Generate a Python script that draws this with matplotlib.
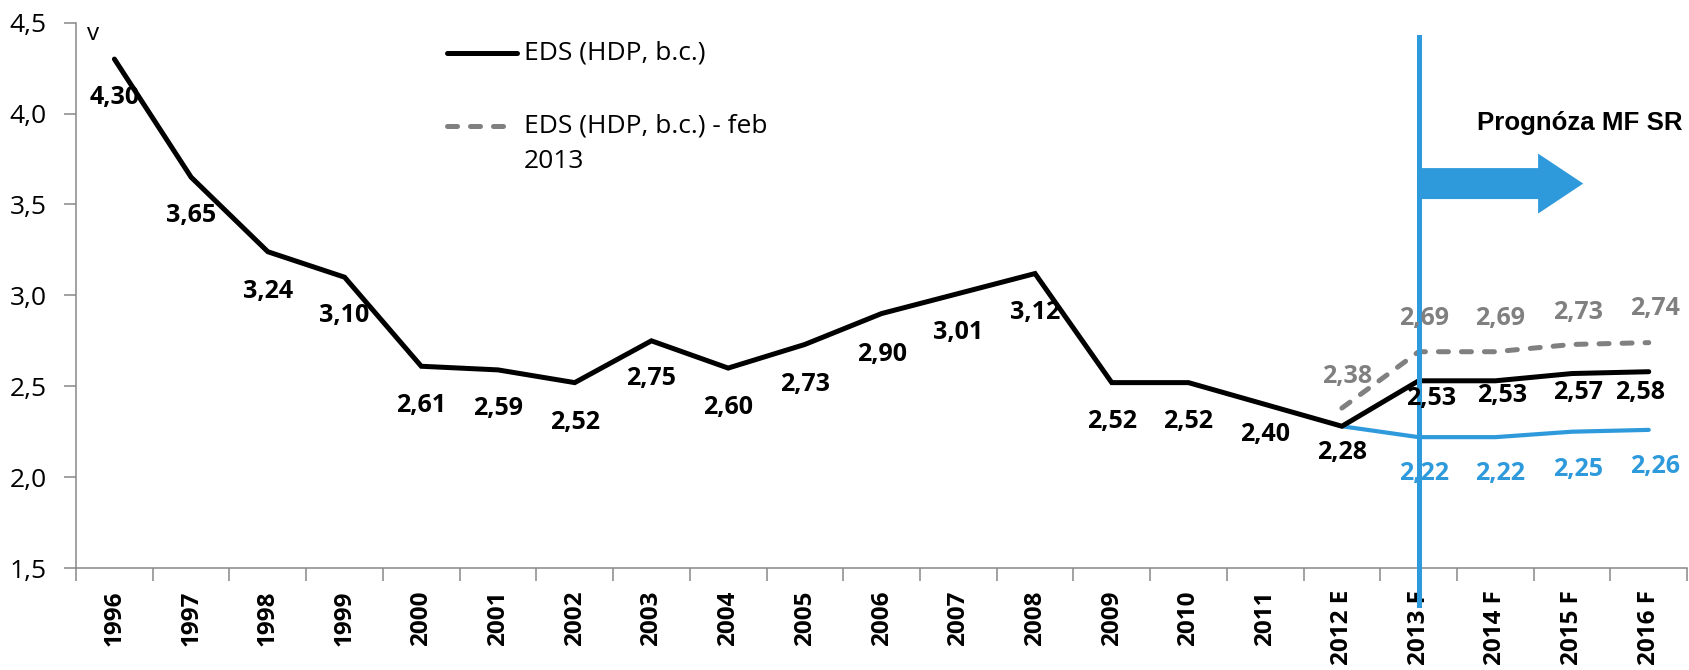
import matplotlib
matplotlib.use("Agg")
import matplotlib.pyplot as plt
from matplotlib.patches import FancyArrow
from matplotlib.ticker import FixedLocator, FuncFormatter
import matplotlib.transforms as mtransforms

plt.rcParams['font.family'] = ['Open Sans', 'DejaVu Sans']

# ---------------- data ----------------
categories = ["1996", "1997", "1998", "1999", "2000", "2001", "2002", "2003", "2004",
              "2005", "2006", "2007", "2008", "2009", "2010", "2011", "2012 E",
              "2013 F", "2014 F", "2015 F", "2016 F"]
eds = [4.30, 3.65, 3.24, 3.10, 2.61, 2.59, 2.52, 2.75, 2.60, 2.73, 2.90, 3.01, 3.12,
       2.52, 2.52, 2.40, 2.28, 2.53, 2.53, 2.57, 2.58]
feb_cats = ["2012 E", "2013 F", "2014 F", "2015 F", "2016 F"]
eds_feb = [2.38, 2.69, 2.69, 2.73, 2.74]
blue_cats = ["2012 E", "2013 F", "2014 F", "2015 F", "2016 F"]
eds_blue = [2.28, 2.22, 2.22, 2.25, 2.26]
blue_label_cats = ["2013 F", "2014 F", "2015 F", "2016 F"]
blue_label_vals = [2.22, 2.22, 2.25, 2.26]
legend_labels = ["EDS (HDP, b.c.)", "EDS (HDP, b.c.) - feb\n2013"]
forecast_start = "2013 F"
arrow_text = "Prognóza MF SR"
unit_text = "v"
y_ticks = [1.5, 2.0, 2.5, 3.0, 3.5, 4.0, 4.5]

# label offsets in pixels (dx, dy downwards positive)
eds_off_x = [0]*17 + [12, 7, 6, -9]
eds_off_y = [38, 38, 40, 38, 39, 39, 40, 38, 39, 40, 41, 39, 39, 39, 39, 30, 26, 18, 15, 19, 21]
feb_off = [(5, -32), (5, -33), (5, -33), (6, -32), (6, -34)]
blue_off = [(5, 36), (5, 36), (6, 38), (6, 37)]

BLUE = "#2F9ADB"
GRAY = "#808080"
AXC = "#888888"

fig = plt.figure(figsize=(16.9, 6.7), dpi=100)
ax = fig.add_axes([0.045, 0.1522, 0.9533, 0.8139])

idx = {c: i for i, c in enumerate(categories)}
x_all = list(range(len(categories)))
x_feb = [idx[c] for c in feb_cats]
x_blue = [idx[c] for c in blue_cats]

ax.plot(x_blue, eds_blue, color=BLUE, lw=3.0, solid_capstyle='round', zorder=3)
ax.plot(x_feb, eds_feb, color=GRAY, lw=3.6, linestyle=(0, (2.0, 2.6)),
        dash_capstyle='round', zorder=3)
ax.plot(x_all, eds, color='black', lw=3.6, solid_capstyle='round',
        solid_joinstyle='miter', zorder=4)

# vertical forecast line
trans = mtransforms.blended_transform_factory(ax.transData, ax.transAxes)
xf = idx[forecast_start]
ax.plot([xf, xf], [0.974, -0.068], transform=trans, color=BLUE, lw=3.6,
        clip_on=False, zorder=5)

# data labels
fs_lab = 18
def fmt(v):
    return f"{v:.2f}".replace('.', ',')
for i, v in enumerate(eds):
    ax.annotate(fmt(v), (i, v), xytext=(eds_off_x[i], -eds_off_y[i]),
                textcoords='offset pixels', ha='center', va='center',
                fontsize=fs_lab, fontweight='bold', color='black', zorder=6)
for (c, v), (dx, dy) in zip(zip(feb_cats, eds_feb), feb_off):
    ax.annotate(fmt(v), (idx[c], v), xytext=(dx, -dy),
                textcoords='offset pixels', ha='center', va='center',
                fontsize=fs_lab, fontweight='bold', color=GRAY, zorder=6)
for (c, v), (dx, dy) in zip(zip(blue_label_cats, blue_label_vals), blue_off):
    ax.annotate(fmt(v), (idx[c], v), xytext=(dx, -dy),
                textcoords='offset pixels', ha='center', va='center',
                fontsize=fs_lab, fontweight='bold', color=BLUE, zorder=6)

# axes styling
ax.set_xlim(-0.5, len(categories) - 0.5)
ax.set_ylim(1.5, 4.5)
ax.set_yticks(y_ticks)
ax.yaxis.set_major_formatter(FuncFormatter(lambda v, p: f"{v:.1f}".replace('.', ',')))
ax.set_xticks(x_all)
ax.set_xticklabels(categories, rotation=90, fontweight='bold', fontsize=17.5)
ax.xaxis.set_minor_locator(FixedLocator([i - 0.5 for i in range(len(categories) + 1)]))
ax.tick_params(axis='x', which='major', length=0, pad=16)
ax.tick_params(axis='x', which='minor', length=9, width=1.1, color=AXC, direction='out')
ax.tick_params(axis='y', which='major', length=9, width=1.1, color=AXC, direction='out',
               labelsize=19, pad=12)
for s in ['top', 'right']:
    ax.spines[s].set_visible(False)
for s in ['left', 'bottom']:
    ax.spines[s].set_color(AXC)
    ax.spines[s].set_linewidth(1.1)

# unit
ax.text(0.0106, 0.979, unit_text, transform=ax.transAxes, ha='center', va='center',
        fontsize=17.5)

# legend (manual)
ax.plot([0.2303, 0.2737], [0.9444, 0.9444], transform=ax.transAxes, color='black',
        lw=3.6, solid_capstyle='round', clip_on=False)
ax.text(0.278, 0.9444, legend_labels[0], transform=ax.transAxes, ha='left',
        va='center', fontsize=19)
ax.plot([0.2303, 0.2715], [0.8106, 0.8106], transform=ax.transAxes, color=GRAY,
        lw=3.6, linestyle=(0, (2.0, 2.6)), dash_capstyle='round', clip_on=False)
for k, line in enumerate(legend_labels[1].split('\n')):
    ax.text(0.278, 0.8106 - k * 0.066, line, transform=ax.transAxes, ha='left',
            va='center', fontsize=19)

# forecast arrow and label
ax.add_patch(FancyArrow(0.834, 0.705, 0.1015, 0, width=0.0568, head_width=0.11,
                        head_length=0.028, length_includes_head=True,
                        transform=ax.transAxes, color=BLUE, lw=0, zorder=5,
                        clip_on=False))
ax.text(0.8697, 0.816, arrow_text, transform=ax.transAxes, ha='left', va='center',
        fontsize=18.6, fontweight='bold', family='Liberation Sans')

fig.savefig("out.png", dpi=100)
